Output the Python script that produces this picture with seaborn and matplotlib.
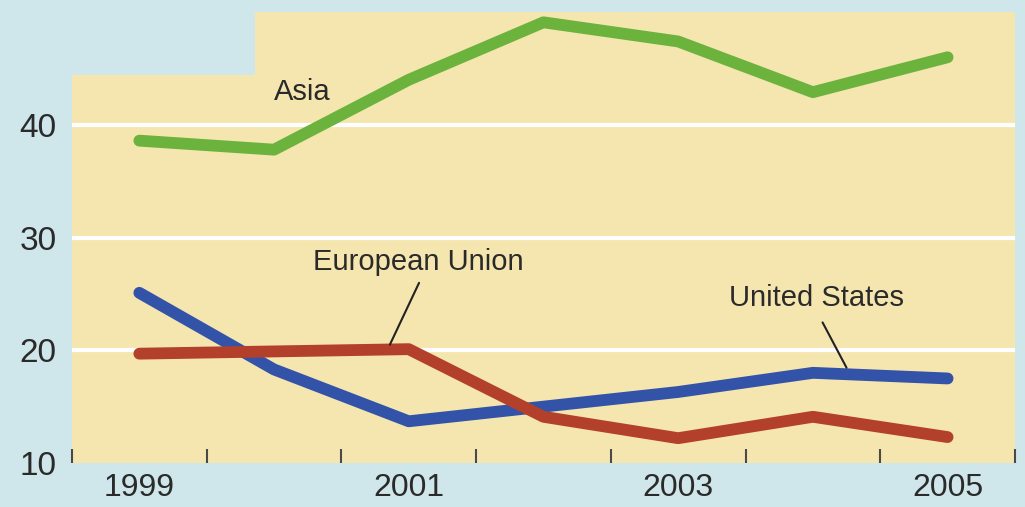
import seaborn as sns
import matplotlib.pyplot as plt
from matplotlib.patches import Rectangle
from matplotlib.ticker import FixedLocator
import pandas as pd

years = [1999, 2000, 2001, 2002, 2003, 2004, 2005]
asia = [38.6, 37.8, 44.0, 49.1, 47.4, 42.9, 46.0]
united_states = [25.1, 18.3, 13.7, 15.0, 16.3, 18.0, 17.5]
european_union = [19.7, 19.9, 20.1, 14.1, 12.2, 14.1, 12.3]
year_labels = [1999, 2001, 2003, 2005]
y_ticks = [10, 20, 30, 40]

bg = "#cfe6ea"
beige = "#f5e6b0"
colors = {"Asia": "#6cb33e", "United States": "#3353a8", "European Union": "#b3402a"}

df = pd.DataFrame({
    "Year": years * 3,
    "Share": asia + united_states + european_union,
    "Region": ["Asia"] * 7 + ["United States"] * 7 + ["European Union"] * 7,
})

sns.set_style("white")
plt.rcParams["font.family"] = ["Liberation Sans", "DejaVu Sans"]

fig = plt.figure(figsize=(10.25, 5.07), dpi=100, facecolor=bg)
ax = fig.add_axes([0.0702, 0.0868, 0.920, 0.8892])
ax.set_facecolor(beige)

# the notch in the top-left corner of the panel
ax.add_patch(Rectangle((-0.01, 0.86), 0.204, 0.15, transform=ax.transAxes,
                       facecolor=bg, edgecolor="none", zorder=0.5, clip_on=False))

for v in [20, 30, 40]:
    ax.axhline(v, color="white", lw=3, zorder=1)

sns.lineplot(data=df, x="Year", y="Share", hue="Region", palette=colors,
             linewidth=8.5, legend=False, ax=ax, zorder=3)

ax.set_xlim(1998.5, 2005.5)
ax.set_ylim(10, 50)
ax.set_xlabel("")
ax.set_ylabel("")

ax.xaxis.set_major_locator(FixedLocator([y - 0.5 for y in years] + [2005.5]))
ax.xaxis.set_minor_locator(FixedLocator(year_labels))
ax.set_xticklabels([], minor=False)
ax.set_xticklabels([str(y) for y in year_labels], minor=True)
ax.tick_params(axis="x", which="major", direction="in", length=10, width=1.5,
               color="#4a4a4a", bottom=True)
ax.tick_params(axis="x", which="minor", length=0, pad=7, labelsize=23,
               labelcolor="#2a2a2a")

ax.set_yticks(y_ticks)
ax.tick_params(axis="y", length=0, pad=11, labelsize=24, labelcolor="#2a2a2a")

for s in ax.spines.values():
    s.set_visible(False)

txt = dict(fontsize=21, color="#2a2a2a", ha="center", va="center")
ax.text(2000.21, 42.9, "Asia", **txt)
ax.annotate("European Union", xy=(2000.86, 20.5), xytext=(2001.07, 27.85),
            arrowprops=dict(arrowstyle="-", color="#222222", lw=1.5,
                            relpos=(0.52, 0), shrinkA=3, shrinkB=0), **txt)
ax.annotate("United States", xy=(2004.25, 18.45), xytext=(2004.03, 24.66),
            arrowprops=dict(arrowstyle="-", color="#222222", lw=1.5,
                            relpos=(0.5, 0), shrinkA=6, shrinkB=0), **txt)

plt.savefig("out.png", dpi=100, facecolor=bg)
